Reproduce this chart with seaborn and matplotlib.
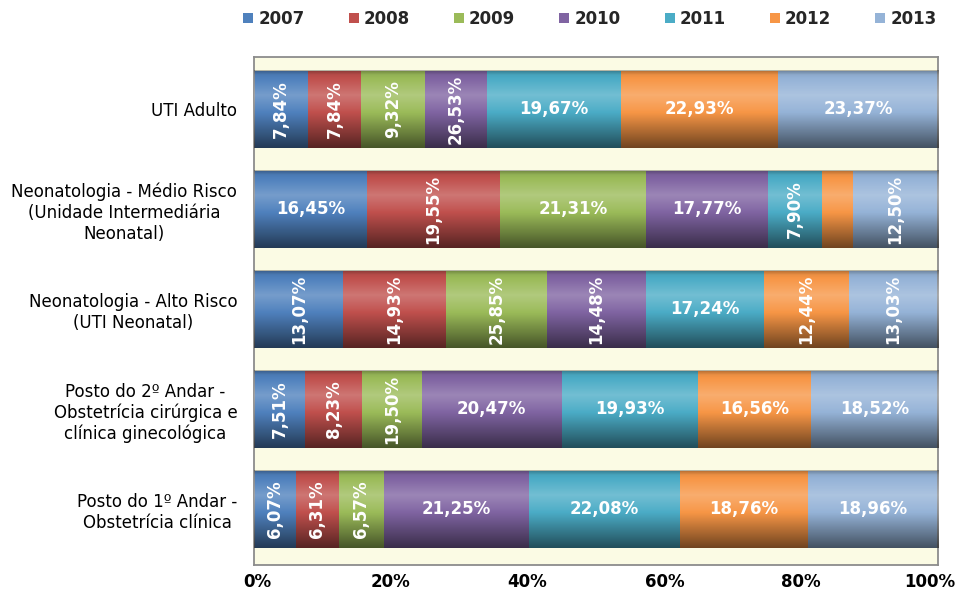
import numpy as np
import pandas as pd
import matplotlib
matplotlib.use("Agg")
import matplotlib.pyplot as plt
import matplotlib.transforms as mtransforms
from matplotlib.patches import Patch
import seaborn as sns

categories = [
    "UTI Adulto",
    "Neonatologia - Médio Risco\n(Unidade Intermediária\nNeonatal)",
    "Neonatologia - Alto Risco\n(UTI Neonatal)",
    "Posto do 2º Andar -\nObstetrícia cirúrgica e\nclínica ginecológica",
    "Posto do 1º Andar -\nObstetrícia clínica",
]
years = ["2007", "2008", "2009", "2010", "2011", "2012", "2013"]

# segment widths (share of each bar)
w_2007 = [7.84, 16.45, 13.07, 7.51, 6.07]
w_2008 = [7.84, 19.55, 14.93, 8.23, 6.31]
w_2009 = [9.32, 21.31, 14.81, 8.78, 6.57]
w_2010 = [9.03, 17.77, 14.48, 20.47, 21.25]
w_2011 = [19.67, 7.90, 17.24, 19.93, 22.08]
w_2012 = [22.93, 4.52, 12.44, 16.56, 18.76]
w_2013 = [23.37, 12.50, 13.03, 18.52, 18.96]

# values printed in the segments
lab_2007 = [7.84, 16.45, 13.07, 7.51, 6.07]
lab_2008 = [7.84, 19.55, 14.93, 8.23, 6.31]
lab_2009 = [9.32, 21.31, 25.85, 19.50, 6.57]
lab_2010 = [26.53, 17.77, 14.48, 20.47, 21.25]
lab_2011 = [19.67, 7.90, 17.24, 19.93, 22.08]
lab_2012 = [22.93, None, 12.44, 16.56, 18.76]
lab_2013 = [23.37, 12.50, 13.03, 18.52, 18.96]

x_ticks = [0, 20, 40, 60, 80, 100]
x_ticklabels = ["0%", "20%", "40%", "60%", "80%", "100%"]

widths = [w_2007, w_2008, w_2009, w_2010, w_2011, w_2012, w_2013]
labels = [lab_2007, lab_2008, lab_2009, lab_2010, lab_2011, lab_2012, lab_2013]

colors = ["#4F81BD", "#C0504D", "#9BBB59", "#8064A2", "#4BACC6", "#F79646", "#95B3D7"]
# (category, year) pairs whose label is written vertically
rotated = {(0, 0), (0, 1), (0, 2), (0, 3),
           (1, 1), (1, 4), (1, 6),
           (2, 0), (2, 1), (2, 2), (2, 3), (2, 5), (2, 6),
           (3, 0), (3, 1), (3, 2),
           (4, 0), (4, 1), (4, 2)}

W = np.array(widths, dtype=float)          # years x categories
W = W / W.sum(axis=0, keepdims=True) * 100  # 100% stacked
cum = np.cumsum(W, axis=0)

sns.set_theme(style="white")
plt.rcParams["font.family"] = ["DejaVu Sans"]

fig = plt.figure(figsize=(9.61, 5.91), dpi=100)
ax = fig.add_axes([0.2643, 0.044, 0.7118, 0.8596])
ax.set_facecolor("#FBFBE4")

BH = 0.77
# draw cumulative totals from last to first so that the stack shows
for k in range(len(years) - 1, -1, -1):
    df = pd.DataFrame({"cat": categories, "val": cum[k]})
    sns.barplot(data=df, x="val", y="cat", orient="h", color=colors[k],
                saturation=1, width=BH, ax=ax, linewidth=0, zorder=2)

# cylinder-like shading overlay
t = np.linspace(0, 1, 200)
s = np.interp(t, [0, 0.06, 0.32, 0.5, 0.75, 1.0], [-0.30, -0.05, 0.22, 0.05, -0.25, -0.55])
img = np.zeros((200, 1, 4))
img[:, 0, :3] = np.where(s[:, None] > 0, 1.0, 0.0)
img[:, 0, 3] = np.abs(s)
for i in range(len(categories)):
    ax.imshow(img, extent=(0, 100, i + BH / 2, i - BH / 2), aspect="auto",
              interpolation="bilinear", zorder=3)

# segment labels
for k in range(len(years)):
    for i in range(len(categories)):
        v = labels[k][i]
        if v is None:
            continue
        x = cum[k][i] - W[k][i] / 2
        txt = f"{v:.2f}".replace(".", ",") + "%"
        rot = 90 if (i, k) in rotated else 0
        ax.text(x, i, txt, ha="center", va="center", rotation=rot,
                color="white", fontsize=12, fontweight="bold", zorder=5)

ax.set_xlim(0, 100)
ax.set_ylim(4.555, -0.525)
ax.set_xticks(x_ticks)
ax.set_xticklabels(x_ticklabels, fontsize=12, fontweight="bold")
ax.set_yticks(range(len(categories)))
ax.set_yticklabels(categories, fontsize=12, multialignment="center")
ax.tick_params(axis="both", length=0, colors="black")
ax.tick_params(axis="x", pad=6)
ax.tick_params(axis="y", pad=12)
ax.set_xlabel("")
ax.set_ylabel("")
for sp in ax.spines.values():
    sp.set_visible(True)
    sp.set_color("#8C8C8C")
    sp.set_linewidth(1.3)

# nudge the edge tick labels inward a little, as in the reference
xt = ax.get_xticklabels()
xt[-1].set_transform(xt[-1].get_transform() +
                     mtransforms.ScaledTranslation(-8 / 100, 0, fig.dpi_scale_trans))
xt[0].set_transform(xt[0].get_transform() +
                    mtransforms.ScaledTranslation(3 / 100, 0, fig.dpi_scale_trans))

handles = [Patch(facecolor=c, edgecolor="none") for c in colors]
fig.legend(handles, years, loc="center", bbox_to_anchor=(0.614, 0.968), ncol=7,
           frameon=False, prop={"weight": "bold", "size": 12},
           handlelength=0.6, handleheight=0.6, handletextpad=0.3,
           columnspacing=2.65)

fig.savefig("out.png", dpi=100)
